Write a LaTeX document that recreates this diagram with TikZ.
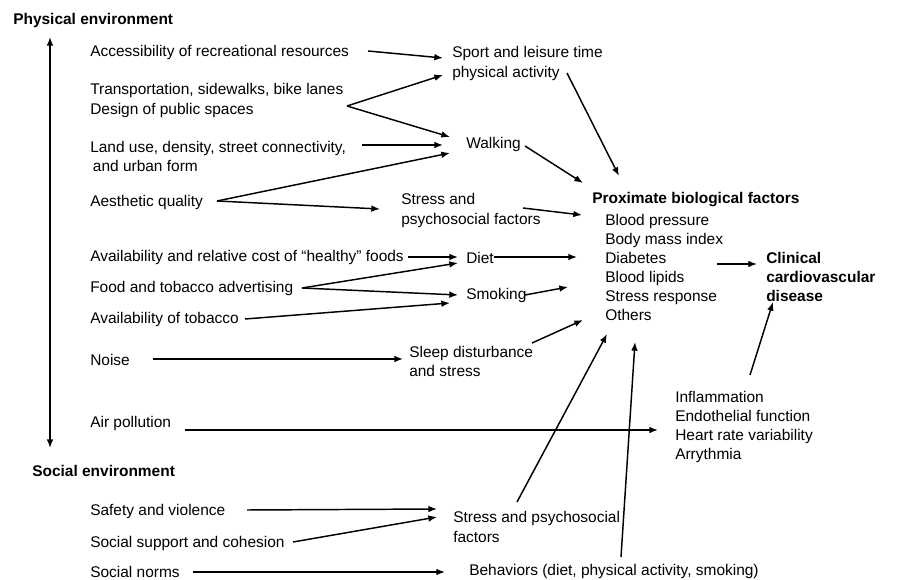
\documentclass[tikz,border=0pt]{standalone}
\usepackage{fontspec}
\setmainfont{Liberation Sans}
\usetikzlibrary{arrows.meta}
\begin{document}
\begin{tikzpicture}[x=0.75pt,y=-0.75pt,
  txt/.style={anchor=west,inner sep=0pt,align=left,font=\fontsize{11.6}{14.3}\selectfont},
  hd/.style={txt,font=\fontsize{11.6}{14.3}\selectfont\bfseries},
  arr/.style={line width=1.1pt,-{Latex[length=6.5pt,width=5pt]}},
  ln/.style={line width=1.1pt}]
\useasboundingbox (0,0) rectangle (902,580);
% left column
\node[hd]  (phys)    at (13,21)    {Physical environment};
\node[txt] (acc)     at (90,53)    {Accessibility of recreational resources};
\node[txt] (trans)   at (90,100.5) {Transportation, sidewalks, bike lanes\\Design of public spaces};
\node[txt] (land)    at (90,156.5) {Land use, density, street connectivity,\\\hspace{2pt}and urban form};
\node[txt] (aes)     at (90,203)   {Aesthetic quality};
\node[txt] (avail)   at (90,258)   {Availability and relative cost of “healthy” foods};
\node[txt] (food)    at (90,289)   {Food and tobacco advertising};
\node[txt] (tob)     at (90,320)   {Availability of tobacco};
\node[txt] (noise)   at (90,360)   {Noise};
\node[txt] (air)     at (90,424)   {Air pollution};
\node[hd]  (soc)     at (32,471)   {Social environment};
\node[txt] (safety)  at (90,511)   {Safety and violence};
\node[txt] (support) at (90,543.5) {Social support and cohesion};
\node[txt] (norms)   at (90,571.5) {Social norms};
% middle column
\node[txt] (sport)   at (452,63.5) {Sport and leisure time\\physical activity};
\node[txt] (walk)    at (466,145)  {Walking};
\node[txt] (stressA) at (401,210.5){Stress and\\psychosocial factors};
\node[txt] (diet)    at (466,258)  {Diet};
\node[txt] (smoke)   at (466,296)  {Smoking};
\node[txt] (sleep)   at (409,361.5){Sleep disturbance\\and stress};
\node[txt] (stressB) at (453,527)  {Stress and psychosocial\\factors};
\node[txt] (behav)   at (469,571.5){Behaviors (diet, physical activity, smoking)};
% right column
\node[hd]  (prox)    at (592,200)  {Proximate biological factors};
\node[txt] (proxl)   at (605,267.5){Blood pressure\\Body mass index\\Diabetes\\Blood lipids\\Stress response\\Others};
\node[hd]  (clin)    at (766,277)  {Clinical\\cardiovascular\\disease};
\node[txt] (infl)    at (675,427)  {Inflammation\\Endothelial function\\Heart rate variability\\Arrythmia};
% connector points
\coordinate (physT) at (50,37);
\coordinate (socB)  at (50,448);
\coordinate (accS)  at (368,51);   \coordinate (sportA) at (443,58);
\coordinate (trF)   at (347,106);  \coordinate (sportB) at (443,75);
\coordinate (walkA) at (450,137);  \coordinate (landS)  at (362,145);
\coordinate (walkB) at (443,145);  \coordinate (aesF)   at (217,201);
\coordinate (walkC) at (450,153);  \coordinate (stressAin) at (380,209);
\coordinate (walkS) at (525,146);  \coordinate (proxA)  at (583,183);
\coordinate (sportS) at (567,73);  \coordinate (proxB)  at (619,176);
\coordinate (stressAS) at (523,208); \coordinate (proxC) at (582,215);
\coordinate (proxS) at (717,264);  \coordinate (clinA)  at (757,264);
\coordinate (availS) at (408,257); \coordinate (dietA)  at (458,257);
\coordinate (dietS) at (494,257);  \coordinate (proxD)  at (577,257);
\coordinate (foodF) at (302,288);  \coordinate (dietB)  at (458,263);
\coordinate (smokeA) at (458,295); \coordinate (smokeS) at (525,295);
\coordinate (proxE) at (568,287);  \coordinate (tobS)   at (245,319);
\coordinate (smokeB) at (450,303); \coordinate (noiseS) at (153,359);
\coordinate (sleepA) at (403,359); \coordinate (sleepS) at (532,343);
\coordinate (proxF) at (583,320);  \coordinate (airS)   at (185,430);
\coordinate (inflA) at (658,430);  \coordinate (inflS)  at (750,375);
\coordinate (clinB) at (773,302);  \coordinate (safeS)  at (247,510);
\coordinate (stressBa) at (437,509); \coordinate (suppS) at (293,542);
\coordinate (stressBb) at (437,517); \coordinate (normS) at (193,572);
\coordinate (behavA) at (445,572); \coordinate (stressBS) at (517,502);
\coordinate (proxG) at (607,334);  \coordinate (behavS) at (621,557);
\coordinate (proxH) at (635,342);
% connectors
\draw[line width=1.1pt,{Latex[length=6.5pt,width=5pt]}-{Latex[length=6.5pt,width=5pt]}] (physT) -- (socB);
\draw[arr] (accS) -- (sportA);
\draw[arr] (trF) -- (sportB);
\draw[arr] (trF) -- (walkA);
\draw[arr] (landS) -- (walkB);
\draw[arr] (aesF) -- (walkC);
\draw[arr] (aesF) -- (stressAin);
\draw[arr] (walkS) -- (proxA);
\draw[arr] (sportS) -- (proxB);
\draw[arr] (stressAS) -- (proxC);
\draw[arr] (proxS) -- (clinA);
\draw[arr] (availS) -- (dietA);
\draw[arr] (dietS) -- (proxD);
\draw[arr] (foodF) -- (dietB);
\draw[arr] (foodF) -- (smokeA);
\draw[arr] (smokeS) -- (proxE);
\draw[arr] (tobS) -- (smokeB);
\draw[arr] (noiseS) -- (sleepA);
\draw[arr] (sleepS) -- (proxF);
\draw[arr] (airS) -- (inflA);
\draw[arr] (inflS) -- (clinB);
\draw[arr] (safeS) -- (stressBa);
\draw[arr] (suppS) -- (stressBb);
\draw[arr] (normS) -- (behavA);
\draw[arr] (stressBS) -- (proxG);
\draw[arr] (behavS) -- (proxH);
\end{tikzpicture}
\end{document}
